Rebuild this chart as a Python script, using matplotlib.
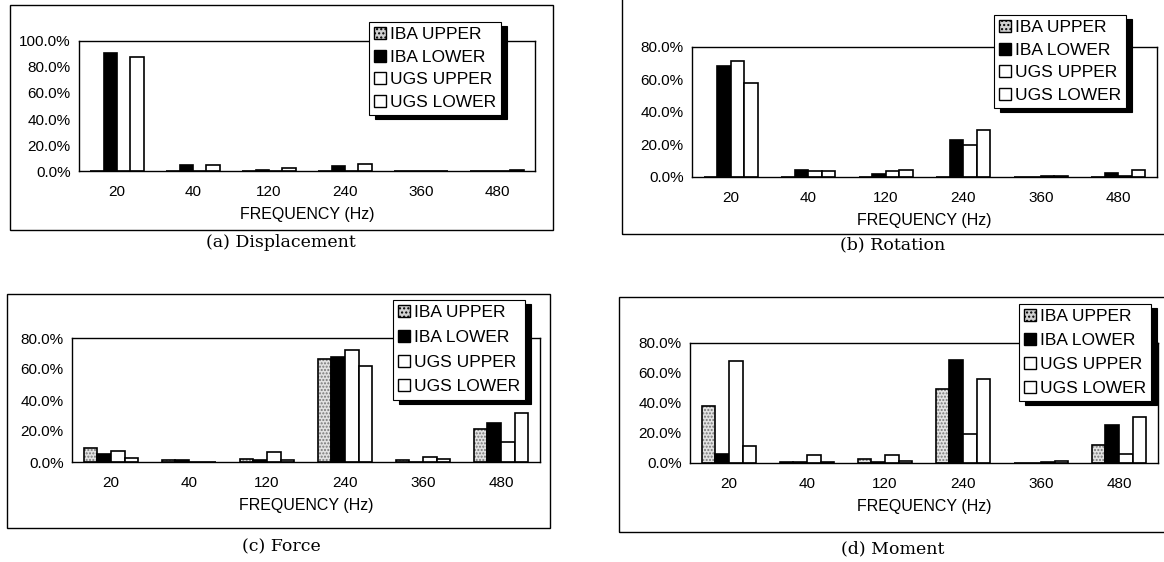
import numpy as np
import matplotlib
matplotlib.use('Agg')
import matplotlib.pyplot as plt
from matplotlib.patches import Patch, Rectangle

plt.rcParams['font.family'] = ['Liberation Sans', 'DejaVu Sans']
plt.rcParams['hatch.linewidth'] = 1.0

# ---- data (in %) ----
freqs = ['20', '40', '120', '240', '360', '480']
series = ['IBA UPPER', 'IBA LOWER', 'UGS UPPER', 'UGS LOWER']

disp_iba_upper = [0, 0, 0, 0, 0, 0]
disp_iba_lower = [91, 5, 1, 4, 0, 0]
disp_ugs_upper = [0, 0, 0, 0, 0, 0]
disp_ugs_lower = [88, 4.5, 2.5, 5.5, 0, 0.7]

rot_iba_upper = [0, 0, 0, 0, 0, 0]
rot_iba_lower = [68, 4.5, 2, 23, 0, 2.5]
rot_ugs_upper = [71.5, 3.5, 3.5, 19.4, 0.5, 0.5]
rot_ugs_lower = [57.7, 3.5, 4.5, 28.7, 0.5, 4.5]

force_iba_upper = [9.2, 1, 2.2, 66.3, 1, 21.3]
force_iba_lower = [5.2, 1, 1, 68, 0, 25]
force_ugs_upper = [7.4, 0.3, 6.3, 72, 3, 13.1]
force_ugs_lower = [2.6, 0.3, 1.2, 61.9, 2.1, 31.4]

mom_iba_upper = [37.8, 1, 2.9, 49.6, 0, 12.2]
mom_iba_lower = [5.8, 1, 1, 68.4, 0, 25.6]
mom_ugs_upper = [68, 5.6, 5.1, 19.6, 0.8, 6.2]
mom_ugs_lower = [11.3, 1, 1.2, 56.2, 1.5, 30.7]

yticks_a = [0, 20, 40, 60, 80, 100]
yticks_b = [0, 20, 40, 60, 80]
captions = ['(a) Displacement', '(b) Rotation', '(c) Force', '(d) Moment']

W, H = 1164, 562
fig = plt.figure(figsize=(W / 100, H / 100), dpi=100)
fig.patch.set_facecolor('white')


def box(l, r, t, b):
    return [l / W, 1 - b / H, (r - l) / W, (b - t) / H]


def frame(l, r, t, b):
    fig.add_artist(Rectangle((l / W, 1 - b / H), (r - l) / W, (b - t) / H,
                             transform=fig.transFigure, fill=False,
                             edgecolor='black', linewidth=1.0))


def panel(rect, vals, yt, leg_xy, caption, cap_xy, lspace):
    ax = fig.add_axes(box(*rect))
    x = np.arange(len(freqs))
    w = 0.175
    offs = (np.arange(4) - 1.5) * w
    # IBA UPPER: stippled grey
    ax.bar(x + offs[0], vals[0], w, color='#e2e2e2', edgecolor='#777777',
           hatch='.....', linewidth=0)
    ax.bar(x + offs[0], vals[0], w, fill=False, edgecolor='black', linewidth=1.2)
    ax.bar(x + offs[1], vals[1], w, color='black', edgecolor='black', linewidth=1.2)
    ax.bar(x + offs[2], vals[2], w, color='white', edgecolor='black', linewidth=1.2)
    ax.bar(x + offs[3], vals[3], w, color='white', edgecolor='black', linewidth=1.2)
    ax.set_xlim(-0.5, len(freqs) - 0.5)
    ax.set_ylim(0, yt[-1])
    ax.set_xticks(x)
    ax.set_xticklabels(freqs)
    ax.set_yticks(yt)
    ax.set_yticklabels(['%.1f%%' % v for v in yt])
    ax.tick_params(length=0, labelsize=11)
    ax.tick_params(axis='x', pad=10)
    ax.tick_params(axis='y', pad=6)
    ax.set_xlabel('FREQUENCY (Hz)', fontsize=11.5, labelpad=6)
    for s in ax.spines.values():
        s.set_linewidth(1.0)

    handles = [Patch(facecolor='#d0d0d0', edgecolor='black', hatch='....', linewidth=1),
               Patch(facecolor='black', edgecolor='black', linewidth=1),
               Patch(facecolor='white', edgecolor='black', linewidth=1),
               Patch(facecolor='white', edgecolor='black', linewidth=1)]
    leg = ax.legend(handles, series, loc='upper left',
                    bbox_to_anchor=(leg_xy[0] / W, 1 - leg_xy[1] / H),
                    bbox_transform=fig.transFigure, borderaxespad=0,
                    fontsize=12.5, frameon=True, fancybox=False, framealpha=1,
                    edgecolor='black', handlelength=0.7, handleheight=0.7,
                    handletextpad=0.2, labelspacing=lspace, borderpad=0.3,
                    shadow={'ox': 4, 'oy': -3, 'color': 'black', 'alpha': 1})
    leg.get_frame().set_linewidth(0.8)
    fig.text(cap_xy[0] / W, 1 - cap_xy[1] / H, caption, ha='center', va='center',
             fontsize=12.5, family='DejaVu Serif')
    return ax


frame(10, 553, 5, 230)
frame(622, 1175, -5, 234)
frame(7, 550, 294, 528)
frame(619, 1175, 297, 532)

panel((79, 535, 41, 171),
      [disp_iba_upper, disp_iba_lower, disp_ugs_upper, disp_ugs_lower],
      yticks_a, (369, 22), captions[0], (281, 242), 0.42)
panel((692, 1157, 47, 177),
      [rot_iba_upper, rot_iba_lower, rot_ugs_upper, rot_ugs_lower],
      yticks_b, (994, 15), captions[1], (893, 245), 0.42)
panel((72, 540, 338, 462),
      [force_iba_upper, force_iba_lower, force_ugs_upper, force_ugs_lower],
      yticks_b, (393, 300), captions[2], (281, 547), 0.55)
panel((690, 1158, 343, 463),
      [mom_iba_upper, mom_iba_lower, mom_ugs_upper, mom_ugs_lower],
      yticks_b, (1019, 304), captions[3], (893, 549), 0.5)

fig.savefig('out.png', dpi=100, facecolor='white')
